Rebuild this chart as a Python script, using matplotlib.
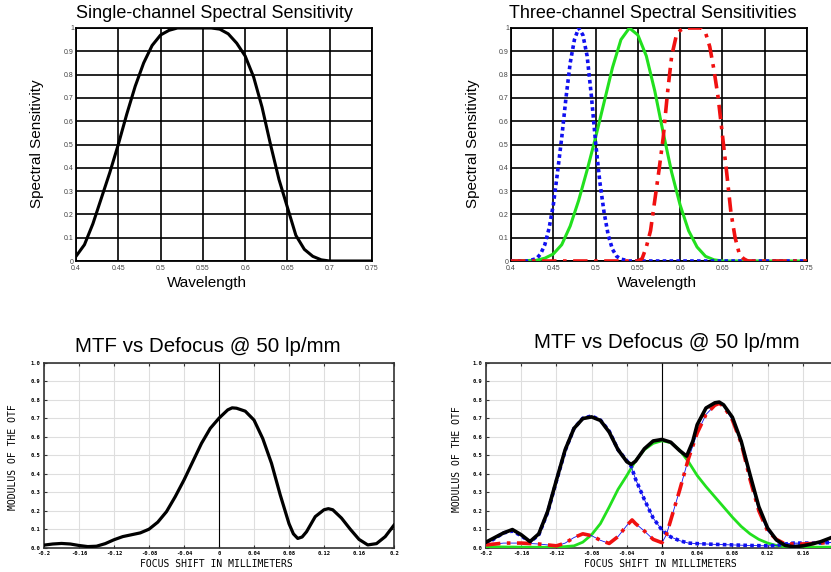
import matplotlib
matplotlib.use("Agg")
import matplotlib.pyplot as plt

# ---- top-left: single-channel spectral sensitivity ----
wl_single = [0.40, 0.41, 0.42, 0.43, 0.44, 0.45, 0.46, 0.47, 0.48, 0.49,
             0.50, 0.51, 0.52, 0.53, 0.54, 0.55, 0.56, 0.57, 0.58, 0.59,
             0.60, 0.61, 0.62, 0.63, 0.64, 0.65, 0.66, 0.67, 0.68, 0.69,
             0.70, 0.72, 0.75]
sens_single = [0.02, 0.07, 0.16, 0.27, 0.38, 0.50, 0.63, 0.75, 0.85, 0.925,
               0.97, 0.99, 1.0, 1.0, 1.0, 1.0, 1.0, 0.995, 0.975, 0.935,
               0.88, 0.79, 0.66, 0.50, 0.35, 0.23, 0.11, 0.05, 0.02, 0.005,
               0.0, 0.0, 0.0]

# ---- top-right: three channels ----
wl_blue = [0.40, 0.42, 0.43, 0.435, 0.44, 0.445, 0.45, 0.455, 0.46, 0.465,
           0.47, 0.475, 0.48, 0.485, 0.49, 0.495, 0.50, 0.505, 0.51, 0.515,
           0.52, 0.525, 0.53, 0.54, 0.75]
sens_blue = [0.0, 0.0, 0.01, 0.03, 0.07, 0.14, 0.24, 0.38, 0.53, 0.70,
             0.85, 0.95, 1.0, 0.97, 0.88, 0.71, 0.51, 0.34, 0.21, 0.11,
             0.05, 0.02, 0.008, 0.0, 0.0]

wl_green = [0.40, 0.43, 0.44, 0.45, 0.46, 0.47, 0.48, 0.49, 0.50, 0.51,
            0.52, 0.53, 0.54, 0.55, 0.56, 0.57, 0.58, 0.59, 0.60, 0.61,
            0.62, 0.63, 0.64, 0.65, 0.75]
sens_green = [0.0, 0.003, 0.012, 0.03, 0.07, 0.15, 0.26, 0.39, 0.53, 0.68,
              0.83, 0.95, 1.0, 0.97, 0.88, 0.73, 0.55, 0.38, 0.24, 0.13,
              0.06, 0.02, 0.005, 0.0, 0.0]

wl_red = [0.40, 0.55, 0.555, 0.56, 0.565, 0.57, 0.575, 0.58, 0.585, 0.59,
          0.595, 0.60, 0.605, 0.625, 0.63, 0.635, 0.64, 0.645, 0.65, 0.655,
          0.66, 0.665, 0.67, 0.675, 0.68, 0.75]
sens_red = [0.0, 0.0, 0.01, 0.06, 0.13, 0.26, 0.39, 0.53, 0.72, 0.88,
            0.96, 0.99, 1.0, 1.0, 0.98, 0.92, 0.82, 0.70, 0.54, 0.38,
            0.21, 0.10, 0.03, 0.01, 0.0, 0.0]

# ---- bottom-left: MTF vs defocus ----
shift_mono = [-0.20, -0.19, -0.18, -0.17, -0.16, -0.15, -0.14, -0.13, -0.12, -0.11,
              -0.10, -0.09, -0.08, -0.07, -0.06, -0.05, -0.04, -0.03, -0.02, -0.01,
              0.00, 0.01, 0.015, 0.02, 0.03, 0.04, 0.05, 0.06, 0.07, 0.08, 0.085,
              0.09, 0.095, 0.10, 0.11, 0.12, 0.125, 0.13, 0.14, 0.15, 0.16, 0.17,
              0.18, 0.19, 0.20]
mtf_mono = [0.014, 0.020, 0.023, 0.020, 0.012, 0.006, 0.008, 0.022, 0.043, 0.060,
            0.070, 0.080, 0.100, 0.138, 0.195, 0.276, 0.366, 0.465, 0.564, 0.645,
            0.700, 0.745, 0.756, 0.754, 0.738, 0.690, 0.590, 0.456, 0.285, 0.130, 0.075,
            0.050, 0.058, 0.086, 0.168, 0.205, 0.211, 0.205, 0.160, 0.100, 0.045, 0.015,
            0.022, 0.060, 0.122]

# ---- bottom-right: per-channel MTF vs defocus ----
shift_total = [-0.20, -0.19, -0.18, -0.17, -0.16, -0.15, -0.14, -0.13, -0.12, -0.11,
               -0.10, -0.09, -0.08, -0.07, -0.06, -0.05, -0.04, -0.035, -0.03, -0.02,
               -0.01, 0.00, 0.01, 0.02, 0.028, 0.035, 0.04, 0.05, 0.06, 0.065,
               0.07, 0.08, 0.09, 0.10, 0.11, 0.12, 0.13, 0.14, 0.15, 0.16,
               0.17, 0.18, 0.19, 0.20]
mtf_total = [0.030, 0.055, 0.080, 0.098, 0.070, 0.033, 0.075, 0.195, 0.365, 0.530,
             0.645, 0.698, 0.707, 0.688, 0.625, 0.530, 0.465, 0.450, 0.468, 0.535,
             0.577, 0.585, 0.570, 0.525, 0.495, 0.575, 0.665, 0.755, 0.783, 0.787,
             0.772, 0.705, 0.575, 0.395, 0.222, 0.106, 0.042, 0.012, 0.005, 0.010,
             0.020, 0.032, 0.050, 0.070]

shift_b = [-0.20, -0.19, -0.18, -0.17, -0.16, -0.15, -0.14, -0.13, -0.12, -0.11,
           -0.10, -0.09, -0.08, -0.07, -0.06, -0.05, -0.04, -0.035, -0.03, -0.02,
           -0.01, 0.00, 0.01, 0.02, 0.03, 0.04, 0.06, 0.08, 0.10, 0.12,
           0.13, 0.14, 0.15, 0.16, 0.18, 0.20]
mtf_b = [0.020, 0.050, 0.080, 0.090, 0.065, 0.030, 0.070, 0.190, 0.360, 0.525,
         0.645, 0.700, 0.712, 0.690, 0.630, 0.530, 0.470, 0.440, 0.370, 0.260,
         0.160, 0.095, 0.058, 0.038, 0.025, 0.022, 0.018, 0.015, 0.012, 0.010,
         0.012, 0.020, 0.025, 0.025, 0.025, 0.030]

shift_g = [-0.20, -0.16, -0.12, -0.10, -0.09, -0.08, -0.07, -0.06, -0.05, -0.04,
           -0.03, -0.02, -0.01, 0.00, 0.01, 0.02, 0.03, 0.04, 0.05, 0.06,
           0.07, 0.08, 0.09, 0.10, 0.11, 0.12, 0.13, 0.14, 0.16, 0.20]
mtf_g = [0.005, 0.003, 0.002, 0.010, 0.030, 0.070, 0.130, 0.220, 0.315, 0.390,
         0.470, 0.530, 0.564, 0.578, 0.568, 0.528, 0.465, 0.390, 0.330, 0.275,
         0.220, 0.165, 0.115, 0.075, 0.045, 0.025, 0.012, 0.006, 0.003, 0.003]

shift_r = [-0.20, -0.18, -0.16, -0.14, -0.12, -0.11, -0.10, -0.09, -0.08, -0.07,
           -0.06, -0.05, -0.04, -0.034, -0.03, -0.02, -0.01, 0.00, 0.005, 0.01,
           0.02, 0.03, 0.035, 0.04, 0.05, 0.06, 0.065, 0.07, 0.08, 0.09,
           0.10, 0.11, 0.12, 0.13, 0.14, 0.16, 0.18, 0.20]
mtf_r = [0.015, 0.025, 0.025, 0.020, 0.010, 0.025, 0.055, 0.075, 0.065, 0.040,
         0.023, 0.060, 0.120, 0.150, 0.130, 0.090, 0.045, 0.027, 0.070, 0.150,
         0.310, 0.480, 0.550, 0.620, 0.720, 0.770, 0.780, 0.765, 0.690, 0.565,
         0.370, 0.200, 0.090, 0.045, 0.020, 0.020, 0.025, 0.030]

wl_ticks = [0.4, 0.45, 0.5, 0.55, 0.6, 0.65, 0.7, 0.75]
wl_ticklabels = ["0.4", "0.45", "0.5", "0.55", "0.6", "0.65", "0.7", "0.75"]
sens_ticks = [0, 0.1, 0.2, 0.3, 0.4, 0.5, 0.6, 0.7, 0.8, 0.9, 1.0]
sens_ticklabels = ["0", "0.1", "0.2", "0.3", "0.4", "0.5", "0.6", "0.7", "0.8", "0.9", "1"]
shift_ticks = [-0.2, -0.16, -0.12, -0.08, -0.04, 0, 0.04, 0.08, 0.12, 0.16, 0.2]
shift_ticklabels = ["-0.2", "-0.16", "-0.12", "-0.08", "-0.04", "0",
                    "0.04", "0.08", "0.12", "0.16", "0.2"]
mtf_ticks = [0, 0.1, 0.2, 0.3, 0.4, 0.5, 0.6, 0.7, 0.8, 0.9, 1.0]
mtf_ticklabels = ["0.0", "0.1", "0.2", "0.3", "0.4", "0.5", "0.6", "0.7", "0.8", "0.9", "1.0"]

SANS = ["Liberation Sans", "DejaVu Sans"]
MONO = ["DejaVu Sans Mono"]
W, H = 831, 572

fig = plt.figure(figsize=(W / 100, H / 100), dpi=100)
fig.patch.set_facecolor("white")


def px_axes(x0, y0, x1, y1):
    return fig.add_axes([x0 / W, 1 - y1 / H, (x1 - x0) / W, (y1 - y0) / H])


def style_spectral(ax):
    ax.set_xlim(0.4, 0.75)
    ax.set_ylim(0, 1)
    ax.set_xticks(wl_ticks)
    ax.set_xticklabels(wl_ticklabels, fontsize=5, color="#444444", family=SANS)
    ax.set_yticks(sens_ticks)
    ax.set_yticklabels(sens_ticklabels, fontsize=5, color="#444444", family=SANS)
    ax.tick_params(length=0)
    ax.tick_params(axis="x", pad=3)
    ax.tick_params(axis="y", pad=1.5)
    ax.grid(True, color="black", lw=1.2)
    ax.set_axisbelow(True)
    for s in ax.spines.values():
        s.set_color("black")
        s.set_linewidth(1.3)


def style_mtf(ax, xlabels):
    ax.set_xlim(-0.2, 0.2)
    ax.set_ylim(0, 1)
    ax.set_xticks(shift_ticks)
    ax.set_xticklabels(xlabels, fontsize=4, family=MONO, fontweight="bold")
    ax.set_yticks(mtf_ticks)
    ax.set_yticklabels(mtf_ticklabels, fontsize=4, family=MONO, fontweight="bold")
    ax.tick_params(direction="in", length=2.5, width=0.8, top=True, right=True,
                   pad=2.5, color="#333333")
    ax.grid(True, color="#dedede", lw=0.8)
    ax.set_axisbelow(True)
    ax.axvline(0, color="black", lw=0.8, zorder=1)
    for s in ax.spines.values():
        s.set_color("#333333")
        s.set_linewidth(1.2)


# top-left
ax1 = px_axes(76, 28, 372, 261)
style_spectral(ax1)
ax1.plot(wl_single, sens_single, color="black", lw=2.2, zorder=3)

# top-right
ax2 = px_axes(511, 28, 807, 261)
style_spectral(ax2)
ax2.plot(wl_green, sens_green, color="#22e01e", lw=2.2, zorder=3)
ax2.plot(wl_blue, sens_blue, color="#1010f0", lw=2.6, linestyle=(0, (1, 0.9)), zorder=4)
ax2.plot(wl_red, sens_red, color="#f01010", lw=2.6, linestyle=(0, (4, 1.8, 1, 1.8)), zorder=5)

fig.text(214 / W, 1 - 18.5 / H, "Single-channel Spectral Sensitivity",
         ha="center", va="baseline", fontsize=13, family=SANS)
fig.text(653 / W, 1 - 18.5 / H, "Three-channel Spectral Sensitivities",
         ha="center", va="baseline", fontsize=13, family=SANS)
fig.text(207 / W, 1 - 286.5 / H, "Wavelength", ha="center", va="baseline",
         fontsize=11, family=SANS)
fig.text(657 / W, 1 - 286.5 / H, "Wavelength", ha="center", va="baseline",
         fontsize=11, family=SANS)
fig.text(37 / W, 1 - 144 / H, "Spectral Sensitivity", ha="center", va="center",
         rotation=90, fontsize=11, family=SANS)
fig.text(473 / W, 1 - 144 / H, "Spectral Sensitivity", ha="center", va="center",
         rotation=90, fontsize=11, family=SANS)

# bottom-left
ax3 = px_axes(44, 362.7, 394, 547.7)
style_mtf(ax3, shift_ticklabels)
ax3.plot(shift_mono, mtf_mono, color="black", lw=2.3, zorder=3)

# bottom-right (runs past the right edge of the figure, as in the original,
# so its last tick label is not shown)
ax4 = px_axes(486, 362.7, 838, 547.7)
style_mtf(ax4, shift_ticklabels[:-1] + [""])
ax4.plot(shift_g, mtf_g, color="#22e01e", lw=2.0, zorder=3)
ax4.plot(shift_b, mtf_b, color="#1010f0", lw=0.6, zorder=3)
ax4.plot(shift_b, mtf_b, color="#1010f0", lw=2.6, linestyle=(0, (1, 0.9)), zorder=4)
ax4.plot(shift_r, mtf_r, color="#1010f0", lw=0.6, zorder=4)
ax4.plot(shift_r, mtf_r, color="#f01010", lw=2.6, linestyle=(0, (4, 1.8, 1, 1.8)), zorder=5)
ax4.plot(shift_total, mtf_total, color="black", lw=2.6, zorder=6)

fig.text(208 / W, 1 - 352.5 / H, "MTF vs Defocus @ 50 lp/mm", ha="center",
         va="baseline", fontsize=14.8, family=SANS)
fig.text(667 / W, 1 - 347.5 / H, "MTF vs Defocus @ 50 lp/mm", ha="center",
         va="baseline", fontsize=14.8, family=SANS)
fig.text(13.5 / W, 1 - 457.5 / H, "MODULUS OF THE OTF", ha="center", va="center",
         rotation=90, fontsize=7, family=MONO)
fig.text(457 / W, 1 - 459.5 / H, "MODULUS OF THE OTF", ha="center", va="center",
         rotation=90, fontsize=7, family=MONO)
fig.text(216 / W, 1 - 564 / H, "FOCUS SHIFT IN MILLIMETERS", ha="center",
         va="center", fontsize=7, family=MONO)
fig.text(660 / W, 1 - 564 / H, "FOCUS SHIFT IN MILLIMETERS", ha="center",
         va="center", fontsize=7, family=MONO)

fig.savefig("out.png", dpi=100)
